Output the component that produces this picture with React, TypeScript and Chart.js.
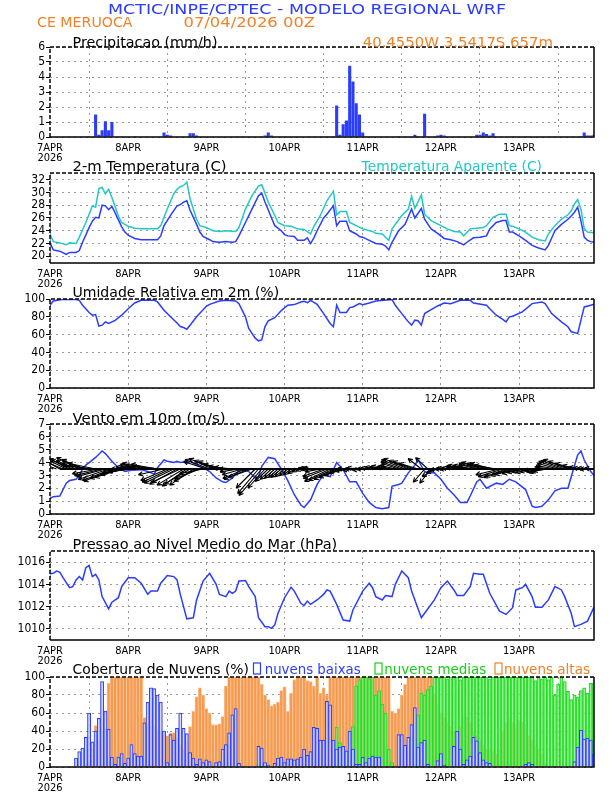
import React, { useEffect, useRef } from 'react';
import { Chart, registerables } from 'chart.js';

Chart.register(...registerables);

// ---------------- DATA ----------------
const dayLabels = ['7APR', '8APR', '9APR', '10APR', '11APR', '12APR', '13APR'];
const yearLabel = '2026';
const dayTicks = [0, 24, 48, 72, 96, 120, 144];

const precipTicks = [0, 1, 2, 3, 4, 5, 6];
const tempTicks = [20, 22, 24, 26, 28, 30, 32];
const rhTicks = [0, 20, 40, 60, 80, 100];
const windTicks = [0, 1, 2, 3, 4, 5, 6, 7];
const pslTicks = [1010, 1012, 1014, 1016];
const cloudTicks = [0, 20, 40, 60, 80, 100];

// hourly precipitation (mm/h), 7APR 00Z .. 13APR 23Z
const precip = [
  0, 0, 0, 0, 0, 0, 0, 0, 0, 0, 0, 0, 0.05, 0, 1.5, 0.15, 0.45, 1.05, 0.45, 1.0, 0, 0, 0, 0,
  0, 0, 0.02, 0, 0, 0, 0, 0, 0, 0, 0, 0.3, 0.15, 0.1, 0, 0, 0, 0.03, 0, 0.25, 0.25, 0.1, 0, 0,
  0, 0, 0, 0, 0, 0, 0, 0, 0, 0, 0, 0, 0, 0, 0, 0, 0, 0, 0.1, 0.3, 0.1, 0, 0, 0,
  0, 0, 0, 0, 0, 0, 0, 0.03, 0, 0, 0, 0, 0, 0.03, 0.03, 0.03, 2.1, 0.15, 0.85, 1.1, 4.75, 3.7, 2.25, 1.5,
  0.3, 0.05, 0, 0, 0, 0, 0, 0, 0, 0, 0, 0.02, 0, 0, 0, 0, 0.15, 0.05, 0, 1.55, 0, 0, 0, 0.1,
  0.15, 0.1, 0, 0, 0, 0, 0, 0, 0, 0, 0, 0.15, 0.15, 0.3, 0.2, 0.1, 0.25, 0, 0, 0, 0, 0, 0.02, 0,
  0, 0, 0, 0, 0, 0, 0, 0, 0, 0, 0, 0, 0, 0, 0, 0, 0, 0, 0, 0.05, 0.3, 0.1, 0.1, 0.15,
];

const t2mHours = [0, 1, 3, 5, 6, 8, 9, 10, 12, 13, 14, 15, 16, 17, 18, 19, 20, 22, 23, 24, 26, 28, 33, 34, 35, 37, 39, 40, 41, 42, 43, 45, 46, 47, 49, 50, 52, 54, 56, 57, 58, 60, 62, 64, 65, 66, 68, 69, 71, 72, 73, 75, 76, 78, 79, 80, 81, 82, 84, 85, 87, 88, 89, 91, 92, 94, 95, 96, 98, 100, 102, 103, 104, 105, 107, 109, 111, 112, 114, 115, 117, 119, 121, 123, 125, 127, 128, 130, 132, 134, 135, 137, 139, 140, 141, 142, 144, 146, 148, 150, 152, 153, 155, 157, 159, 160, 161, 162, 163, 164, 165, 166, 167];
const t2mValues = [22.1, 21.0, 20.8, 20.3, 20.6, 20.6, 20.9, 22.2, 24.5, 25.5, 26.1, 26.0, 28.0, 27.9, 27.3, 27.8, 26.8, 24.6, 23.8, 23.3, 22.8, 22.6, 22.6, 23.2, 24.8, 26.4, 27.9, 28.1, 28.5, 28.7, 27.2, 25.0, 23.8, 23.1, 22.6, 22.3, 22.2, 22.3, 22.2, 22.3, 23.2, 25.3, 27.4, 29.5, 29.9, 28.5, 26.0, 24.8, 24.0, 23.4, 23.2, 23.1, 22.5, 22.5, 22.9, 22.0, 22.9, 24.0, 26.0, 26.6, 27.9, 24.8, 25.5, 25.5, 24.0, 23.5, 23.1, 23.0, 22.5, 22.0, 21.9, 21.6, 21.0, 22.2, 24.0, 25.0, 27.4, 26.0, 27.5, 25.8, 24.3, 23.6, 22.8, 22.6, 22.3, 21.8, 22.2, 22.9, 23.0, 23.2, 24.3, 25.3, 25.6, 25.6, 23.8, 23.8, 23.2, 22.5, 21.7, 21.3, 21.0, 21.7, 24.0, 25.0, 25.8, 26.3, 26.9, 27.7, 25.5, 23.0, 22.5, 22.3, 22.2];

const appHours = [0, 1, 3, 5, 6, 8, 9, 11, 12, 13, 14, 15, 16, 17, 18, 19, 21, 22, 24, 26, 28, 33, 34, 36, 38, 39, 40, 41, 42, 43, 45, 46, 48, 50, 52, 54, 57, 58, 60, 62, 64, 65, 66, 67, 69, 70, 72, 74, 76, 78, 80, 81, 83, 85, 87, 88, 89, 91, 92, 94, 96, 99, 100, 102, 104, 105, 108, 110, 111, 112, 114, 115, 117, 120, 122, 124, 126, 127, 129, 131, 133, 134, 136, 138, 140, 141, 142, 144, 146, 148, 150, 152, 153, 155, 157, 159, 160, 161, 162, 163, 164, 165, 167];
const appValues = [23.5, 22.3, 22.1, 21.8, 22.1, 22.0, 23.0, 25.3, 26.6, 27.9, 27.7, 30.6, 30.8, 29.8, 30.5, 29.2, 26.3, 25.3, 24.7, 24.4, 24.3, 24.3, 24.8, 27.4, 29.8, 30.5, 30.9, 31.1, 31.6, 29.0, 25.8, 24.8, 24.5, 24.0, 23.9, 24.0, 23.9, 24.5, 27.4, 29.5, 31.0, 31.2, 29.9, 28.5, 26.4, 25.3, 24.8, 24.7, 24.3, 24.2, 23.5, 24.7, 26.4, 28.7, 30.2, 26.5, 27.0, 27.0, 25.3, 24.8, 24.3, 23.9, 23.6, 23.5, 22.5, 24.3, 26.4, 27.4, 29.4, 27.5, 29.6, 26.6, 25.6, 24.8, 24.3, 23.9, 23.8, 23.2, 24.3, 24.4, 24.5, 24.8, 26.1, 26.6, 26.6, 24.8, 24.7, 24.3, 23.8, 23.0, 22.6, 22.4, 23.5, 24.8, 25.8, 26.5, 27.1, 28.2, 28.9, 27.4, 24.3, 23.8, 23.7];

const rhHours = [0, 1, 4, 8, 9, 10, 12, 13, 14, 15, 16, 17, 18, 20, 22, 24, 26, 28, 32, 33, 35, 37, 39, 40, 41, 42, 43, 45, 48, 49, 52, 54, 57, 58, 60, 61, 63, 64, 65, 66, 67, 69, 71, 73, 75, 77, 78, 79, 80, 82, 84, 86, 87, 88, 89, 91, 92, 93, 95, 96, 98, 100, 105, 106, 108, 110, 111, 112, 113, 114, 115, 117, 119, 121, 123, 126, 129, 130, 134, 135, 137, 139, 140, 141, 142, 145, 148, 151, 152, 154, 157, 159, 160, 162, 163, 164, 166, 167];
const rhValues = [93, 97.8, 99.6, 99.3, 98.5, 93, 84.8, 81.8, 82.5, 69.5, 70.6, 74.3, 72.5, 76, 81.8, 89, 95.5, 98.5, 98.5, 96.7, 87.4, 80, 73, 69, 68, 66, 70.6, 80, 91.8, 94, 97.8, 98.5, 97.8, 94.8, 80, 67, 56, 53, 54, 69, 75.5, 79, 87, 93, 93.7, 96.7, 97.4, 95.9, 98.5, 94, 83.6, 72.5, 68.8, 93, 84.8, 84.8, 90.3, 91.1, 94.8, 93.7, 95.5, 97.8, 99.3, 93, 83.6, 74.3, 70.6, 76.2, 75.5, 70.6, 83.6, 88, 92.2, 95.5, 94.8, 98.5, 98.5, 95.5, 93, 89, 81.8, 77, 74.3, 79.9, 80.7, 85.5, 94.8, 96.7, 94.8, 83.6, 74.3, 68.8, 63.2, 61.3, 76.2, 91.1, 93, 94];

const windHours = [0, 1, 3, 4, 5, 6, 8, 9, 10, 11, 12, 14, 16, 17, 19, 21, 23, 25, 28, 30, 32, 33, 35, 36, 38, 39, 40, 41, 42, 43, 45, 47, 49, 51, 53, 54, 56, 58, 60, 61, 63, 64, 65, 67, 69, 71, 73, 75, 77, 78, 80, 82, 84, 86, 88, 90, 92, 94, 96, 98, 100, 102, 104, 105, 107, 108, 110, 112, 113, 115, 116, 118, 120, 122, 124, 126, 128, 129, 131, 132, 134, 137, 139, 141, 143, 146, 148, 149, 151, 153, 155, 157, 159, 160, 162, 163, 164, 166, 167];
const windValues = [1.2, 1.35, 1.4, 1.9, 2.4, 2.6, 2.7, 3.0, 3.5, 3.8, 4.0, 4.4, 4.9, 4.7, 4.1, 3.6, 3.3, 3.4, 3.45, 3.3, 3.1, 3.6, 4.2, 4.1, 4.0, 4.1, 4.0, 4.05, 3.95, 4.1, 3.8, 3.6, 3.3, 2.8, 2.5, 2.45, 2.8, 3.4, 3.4, 3.3, 2.8, 2.9, 3.7, 4.4, 4.3, 3.5, 2.6, 1.5, 0.7, 0.5, 1.1, 2.3, 3.1, 2.9, 4.0, 3.45, 2.5, 2.5, 1.6, 0.9, 0.5, 0.4, 0.5, 2.15, 2.3, 2.4, 3.2, 3.8, 4.2, 3.3, 3.2, 3.2, 2.7, 2.0, 1.5, 0.9, 0.9, 1.4, 2.5, 2.7, 2.0, 2.4, 2.3, 2.7, 2.5, 1.9, 0.6, 0.5, 0.6, 1.1, 1.8, 2.0, 2.0, 2.9, 4.6, 4.9, 4.2, 3.3, 3.0];

// hourly wind vector components (m/s) drawn as arrows from the 3.5 line
const windU = [
  -1.6, -1.7, -1.8, -1.7, -1.9, -2.0, -2.2, -2.3, -2.1, -2.4, -2.2, -2.5, -3.0, -3.1, -2.9, -2.8, -2.9, -3.0, -3.2, -3.1, -3.3, -3.0, -2.8, -2.6,
  -2.7, -2.5, -2.8, -2.9, -2.7, -2.6, -2.9, -3.0, -3.1, -2.8, -3.0, -2.7, -2.8, -3.0, -3.1, -2.9, -3.0, -2.8, -2.6, -2.7, -2.5, -2.4, -2.6, -2.5,
  -2.4, -2.6, -2.5, -2.3, -2.2, -2.0, -1.8, -1.7, -1.9, -1.8, -2.0, -2.1, -2.4, -2.6, -2.5, -2.0, -2.2, -2.4, -1.8, -1.4, -1.2, -1.1, -1.0, -1.1,
  -1.0, -0.9, -0.8, -0.7, -0.6, -0.5, -0.6, -0.8, -1.0, -1.2, -1.4, -1.6, -2.2, -2.5, -2.7, -2.6, -2.4, -2.2, -2.0, -1.8, -1.6, -1.9, -2.0, -1.8,
  -1.9, -2.0, -1.8, -1.7, -1.6, -1.5, -1.4, -1.5, -1.3, -1.5, -1.6, -1.8, -2.2, -2.5, -2.6, -2.4, -2.3, -2.0, -1.4, -1.2, -1.3, -1.2, -1.3, -1.2,
  -1.2, -1.0, -1.1, -1.2, -1.3, -1.2, -1.5, -1.7, -1.6, -1.8, -1.7, -1.9, -2.2, -2.3, -2.1, -2.2, -2.4, -2.3, -2.5, -2.6, -2.4, -2.5, -2.3, -2.2,
  -1.8, -1.6, -1.5, -1.4, -1.3, -1.2, -1.3, -1.4, -1.5, -1.6, -1.8, -2.0, -2.2, -2.4, -2.5, -2.6, -2.4, -2.0, -1.6, -1.3, -1.2, -1.1, -1.2, -1.0,
];
const windV = [
  0.8, 0.9, 0.7, 1.0, 0.8, 1.0, 1.1, 1.0, 0.9, 1.2, 1.0, 0.9, 0.5, 0.4, 0.6, -0.5, -0.7, -0.8, -1.1, -1.2, -1.3, -1.0, -0.9, -0.6,
  -0.4, -0.3, -0.2, 0.0, 0.2, 0.3, 0.5, 0.6, 0.4, 0.5, 0.3, -0.6, -1.2, -1.4, -1.5, -1.6, -1.4, -1.7, -1.8, -1.6, -1.7, -1.3, -1.0, -0.5,
  0.8, 1.0, 1.1, 0.9, 0.8, 0.5, 0.3, 0.1, 0.2, 0.0, -0.3, -0.6, -1.0, -1.1, -0.9, -2.0, -2.6, -2.8, -2.0, -1.3, -1.1, -1.0, -0.9, -0.9,
  -0.8, -0.7, -0.6, -0.5, -0.3, -0.2, 0.1, 0.1, 0.0, 0.1, 0.0, -0.3, -0.8, -1.0, -1.3, -1.2, -1.1, -0.9, -0.7, -0.4, -0.2, -0.1, 0.0, -0.1,
  0.0, 0.1, -0.1, 0.0, 0.1, 0.2, 0.2, 0.3, 0.2, 0.3, 0.4, 0.6, 0.8, 1.0, 1.1, 0.9, 0.8, 0.6, 1.1, -1.4, 1.2, -1.5, -0.8, -0.4,
  -0.1, 0.0, 0.1, 0.0, 0.1, 0.2, 0.3, 0.4, 0.3, 0.4, 0.3, 0.5, 0.6, 0.7, 0.6, 0.5, 0.6, 0.4, -0.6, -0.8, -0.9, -0.8, -0.7, -0.6,
  -0.5, -0.4, -0.3, -0.4, -0.3, -0.2, -0.3, -0.4, -0.3, -0.2, 0.2, 0.4, 0.6, 0.8, 0.9, 1.0, 0.8, 0.6, 0.4, 0.2, 0.1, 0.1, 0.0, 0.1,
];
const windBase = 3.5;

const pslHours = [0, 1, 2, 3, 4, 6, 7, 8, 9, 10, 11, 12, 13, 14, 15, 16, 18, 19, 21, 22, 24, 26, 28, 30, 31, 33, 34, 36, 38, 39, 40, 42, 44, 45, 47, 49, 51, 52, 54, 55, 56, 57, 58, 60, 61, 63, 64, 66, 67, 68, 69, 70, 72, 74, 75, 77, 78, 79, 80, 82, 84, 85, 86, 88, 90, 92, 93, 96, 98, 99, 100, 102, 103, 105, 106, 108, 110, 111, 114, 115, 118, 120, 122, 124, 125, 127, 129, 130, 132, 133, 135, 138, 140, 142, 143, 145, 146, 148, 149, 151, 153, 155, 157, 158, 160, 161, 163, 165, 167];
const pslValues = [1014.95, 1015.0, 1015.2, 1015.1, 1014.6, 1013.7, 1013.8, 1014.4, 1014.7, 1014.4, 1015.5, 1015.7, 1014.7, 1014.9, 1014.4, 1012.9, 1011.8, 1012.4, 1012.8, 1013.8, 1014.6, 1014.6, 1014.1, 1013.1, 1013.4, 1013.4, 1014.1, 1014.8, 1014.7, 1014.4, 1013.1, 1010.9, 1011.0, 1012.6, 1014.3, 1015.0, 1014.0, 1013.1, 1012.9, 1013.4, 1013.2, 1013.4, 1014.3, 1014.35, 1013.8, 1012.9, 1011.0, 1010.2, 1010.2, 1010.05, 1010.35, 1011.4, 1012.8, 1013.75, 1013.4, 1012.3, 1012.1, 1012.5, 1012.2, 1012.6, 1013.1, 1013.5, 1013.4, 1012.2, 1010.8, 1010.7, 1011.7, 1013.4, 1014.1, 1013.7, 1012.9, 1012.6, 1013.0, 1012.9, 1014.0, 1015.2, 1014.6, 1013.4, 1011.0, 1011.4, 1012.6, 1013.7, 1014.3, 1013.5, 1013.0, 1013.0, 1013.8, 1015.0, 1014.9, 1014.9, 1013.2, 1011.6, 1011.3, 1011.9, 1013.5, 1013.7, 1014.0, 1012.9, 1011.95, 1011.95, 1012.6, 1013.8, 1013.5, 1012.9, 1011.4, 1010.2, 1010.4, 1010.7, 1011.95];

// hourly cloud cover (%)
const lowClouds = [
  0, 0, 0, 0, 0, 0, 0, 0, 10, 17, 21, 33, 60, 28, 40, 54, 95, 62, 42, 11, 3, 11, 15, 4,
  10, 25, 15, 12, 12, 49, 72, 88, 87, 80, 72, 40, 5, 36, 30, 43, 60, 43, 37, 16, 10, 3, 9, 5,
  8, 6, 1, 5, 6, 20, 25, 38, 58, 65, 4, 0, 0, 0, 0, 0, 23, 21, 5, 2, 0, 4, 10, 11,
  5, 9, 9, 8, 9, 11, 20, 13, 17, 44, 43, 30, 30, 73, 69, 30, 20, 22, 23, 18, 40, 20, 3, 3,
  11, 5, 10, 12, 11, 11, 0, 0, 0, 0, 0, 36, 36, 24, 33, 47, 66, 22, 27, 30, 3, 0, 0, 7,
  15, 2, 0, 0, 23, 40, 20, 3, 8, 12, 33, 29, 16, 8, 5, 4, 0, 0, 0, 0, 0, 0, 0, 0,
  0, 0, 3, 5, 3, 0, 0, 0, 0, 0, 0, 0, 0, 0, 0, 0, 0, 6, 22, 41, 31, 32, 30, 14,
];
const midClouds = [
  0, 0, 0, 0, 0, 0, 0, 0, 0, 0, 0, 0, 0, 0, 0, 0, 0, 0, 0, 2, 0, 0, 0, 0,
  0, 0, 0, 0, 0, 0, 0, 0, 0, 0, 0, 0, 0, 0, 0, 0, 2, 2, 0, 0, 2, 0, 0, 3,
  0, 0, 0, 0, 0, 0, 0, 0, 0, 0, 0, 0, 0, 0, 0, 0, 3, 3, 2, 0, 0, 0, 0, 0,
  0, 0, 0, 0, 0, 0, 0, 0, 0, 0, 0, 0, 0, 0, 0, 0, 44, 27, 20, 17, 18, 45, 90, 97,
  100, 100, 98, 100, 80, 85, 70, 60, 20, 5, 0, 0, 0, 0, 0, 0, 30, 58, 82, 80, 86, 90, 100, 100,
  100, 100, 98, 100, 100, 100, 97, 100, 100, 100, 100, 100, 100, 100, 100, 98, 100, 100, 100, 100, 100, 100, 100, 100,
  100, 100, 100, 100, 100, 96, 100, 98, 100, 97, 100, 80, 92, 100, 95, 84, 75, 80, 78, 85, 88, 82, 93, 93,
];
const highClouds = [
  0, 0, 0, 0, 0, 0, 0, 0, 0, 0, 0, 3, 5, 20, 46, 30, 40, 43, 93, 100, 100, 100, 100, 100,
  100, 100, 100, 100, 100, 55, 48, 52, 45, 42, 40, 38, 35, 38, 38, 33, 25, 20, 28, 45, 62, 78, 88, 80,
  65, 60, 47, 47, 48, 56, 90, 100, 100, 100, 100, 100, 100, 100, 100, 100, 100, 92, 80, 75, 68, 70, 72, 85,
  89, 62, 82, 97, 100, 100, 100, 96, 95, 90, 100, 82, 88, 80, 100, 100, 100, 100, 100, 100, 100, 100, 100, 100,
  100, 100, 100, 100, 100, 100, 100, 100, 100, 62, 60, 65, 80, 92, 100, 100, 100, 100, 100, 100, 100, 100, 80, 70,
  60, 55, 50, 45, 40, 35, 45, 57, 55, 50, 40, 35, 30, 25, 20, 20, 18, 15, 20, 40, 50, 53, 50, 48,
  52, 50, 48, 35, 30, 25, 20, 15, 5, 0, 0, 0, 0, 0, 0, 0, 0, 0, 0, 0, 0, 0, 0, 0,
];

// ---------------- STYLE ----------------
const BLUE = '#2a3cff';
const CYAN = '#22c8c8';
const ORANGE = '#f08228';
const GREEN = '#14d214';
const GRID_COLOR = '#9a9a9a';
const FONT_FAMILY = "'DejaVu Sans Condensed', 'DejaVu Sans', sans-serif";
const X_TICK_FONT = { family: FONT_FAMILY, size: 11, lineHeight: 0.9 };
const Y_TICK_FONT = { family: FONT_FAMILY, size: 12 };
const TITLE_FONT = "'DejaVu Sans', sans-serif";

const PAD_T = 12;
const X_H = 30;
const LEFT = 50;
const RIGHT_PAD = 18;

const PANELS = [
  { top: 47, bottom: 137 },
  { top: 173, bottom: 263 },
  { top: 299, bottom: 388 },
  { top: 424, bottom: 514 },
  { top: 551, bottom: 640 },
  { top: 677, bottom: 767 },
];

const hourly = (arr: number[]) => arr.map((v, i) => ({ x: i, y: v }));
const pts = (hs: number[], vs: number[]) => hs.map((h, i) => ({ x: h, y: vs[i] }));

const framePlugin = {
  id: 'frame',
  afterDraw(chart: any) {
    const { ctx, chartArea } = chart;
    const { left, top, right, bottom } = chartArea;
    ctx.save();
    ctx.strokeStyle = '#000';
    ctx.lineWidth = 1.5;
    ctx.setLineDash([]);
    ctx.beginPath();
    ctx.moveTo(right, top);
    ctx.lineTo(right, bottom);
    ctx.lineTo(left, bottom);
    ctx.stroke();
    ctx.setLineDash([4, 2]);
    ctx.beginPath();
    ctx.moveTo(left, bottom);
    ctx.lineTo(left, top);
    ctx.lineTo(right, top);
    ctx.stroke();
    ctx.restore();
  },
};

const arrowPlugin = {
  id: 'windArrows',
  afterDatasetsDraw(chart: any) {
    const { ctx, chartArea, scales } = chart;
    const xs = scales.x;
    const ys = scales.y;
    const y0 = ys.getPixelForValue(windBase);
    const k = 9.5;
    ctx.save();
    ctx.beginPath();
    ctx.rect(chartArea.left, chartArea.top, chartArea.right - chartArea.left, chartArea.bottom - chartArea.top);
    ctx.clip();
    ctx.strokeStyle = '#000';
    ctx.lineWidth = 2;
    ctx.beginPath();
    ctx.moveTo(xs.getPixelForValue(3), y0);
    ctx.lineTo(chartArea.right, y0);
    ctx.stroke();
    ctx.lineWidth = 1.1;
    for (let i = 0; i < windU.length; i++) {
      const x0 = xs.getPixelForValue(i);
      const dx = windU[i] * k;
      const dy = -windV[i] * k;
      const x1 = x0 + dx;
      const y1 = y0 + dy;
      const ang = Math.atan2(dy, dx);
      const hl = 5;
      ctx.beginPath();
      ctx.moveTo(x0, y0);
      ctx.lineTo(x1, y1);
      ctx.moveTo(x1, y1);
      ctx.lineTo(x1 - hl * Math.cos(ang - 0.45), y1 - hl * Math.sin(ang - 0.45));
      ctx.moveTo(x1, y1);
      ctx.lineTo(x1 - hl * Math.cos(ang + 0.45), y1 - hl * Math.sin(ang + 0.45));
      ctx.stroke();
    }
    ctx.restore();
  },
};

function makeOptions(yMin: number, yMax: number, yTicks: number[]) {
  return {
    responsive: false,
    maintainAspectRatio: false,
    animation: false,
    devicePixelRatio: 1,
    layout: { padding: { top: PAD_T, right: RIGHT_PAD, left: 0, bottom: 0 } },
    plugins: { legend: { display: false }, tooltip: { enabled: false }, title: { display: false } },
    scales: {
      x: {
        type: 'linear',
        min: 0,
        max: 167,
        offset: false,
        afterBuildTicks: (s: any) => {
          s.ticks = dayTicks.map((v) => ({ value: v }));
        },
        afterFit: (s: any) => {
          s.height = X_H;
        },
        ticks: {
          autoSkip: false,
          maxRotation: 0,
          minRotation: 0,
          padding: 6,
          color: '#000',
          font: X_TICK_FONT,
          callback: (v: number) => {
            const i = dayTicks.indexOf(v);
            return i === 0 ? [dayLabels[0], yearLabel] : dayLabels[i];
          },
        },
        grid: { color: GRID_COLOR, lineWidth: 1, drawTicks: false },
        border: { display: false, dash: [2, 4] },
      },
      y: {
        type: 'linear',
        min: yMin,
        max: yMax,
        afterBuildTicks: (s: any) => {
          s.ticks = yTicks.map((v) => ({ value: v }));
        },
        afterFit: (s: any) => {
          s.width = LEFT;
        },
        ticks: { autoSkip: false, color: '#000', font: Y_TICK_FONT, padding: 1, callback: (v: number) => String(v) },
        grid: { color: GRID_COLOR, lineWidth: 1, drawTicks: true, tickLength: 4, tickColor: '#000', tickWidth: 1 },
        border: { display: false, dash: [2, 4] },
      },
    },
  };
}

const lineDs = (data: any[], color: string) => ({
  type: 'line',
  data,
  borderColor: color,
  borderWidth: 1.5,
  pointRadius: 0,
  tension: 0,
  fill: false,
});

const builders: (() => any)[] = [
  () => ({
    type: 'bar',
    data: {
      datasets: [
        { data: hourly(precip), backgroundColor: BLUE, borderWidth: 0, barPercentage: 1, categoryPercentage: 0.95 },
      ],
    },
    options: makeOptions(0, 6, precipTicks),
    plugins: [framePlugin],
  }),
  () => ({
    type: 'line',
    data: { datasets: [lineDs(pts(appHours, appValues), CYAN), lineDs(pts(t2mHours, t2mValues), BLUE)] },
    options: makeOptions(18.95, 33.05, tempTicks),
    plugins: [framePlugin],
  }),
  () => ({
    type: 'line',
    data: { datasets: [lineDs(pts(rhHours, rhValues), BLUE)] },
    options: makeOptions(0, 100, rhTicks),
    plugins: [framePlugin],
  }),
  () => ({
    type: 'line',
    data: { datasets: [lineDs(pts(windHours, windValues), BLUE)] },
    options: makeOptions(0, 7, windTicks),
    plugins: [arrowPlugin, framePlugin],
  }),
  () => ({
    type: 'line',
    data: { datasets: [lineDs(pts(pslHours, pslValues), BLUE)] },
    options: makeOptions(1009, 1017, pslTicks),
    plugins: [framePlugin],
  }),
  () => ({
    type: 'bar',
    data: {
      datasets: [
        {
          data: hourly(lowClouds),
          backgroundColor: 'rgba(255,255,255,0.6)',
          borderColor: BLUE,
          borderWidth: 1,
          grouped: false,
          barPercentage: 1,
          categoryPercentage: 1,
        },
        {
          data: hourly(midClouds),
          backgroundColor: 'rgba(150,240,150,0.55)',
          borderColor: '#22dd22',
          borderWidth: 1,
          grouped: false,
          barPercentage: 1,
          categoryPercentage: 1,
        },
        {
          data: hourly(highClouds),
          backgroundColor: '#f59a50',
          borderColor: '#fcc595',
          borderWidth: 0.8,
          grouped: false,
          barPercentage: 1,
          categoryPercentage: 1,
        },
      ],
    },
    options: makeOptions(0, 100, cloudTicks),
    plugins: [framePlugin],
  }),
];

function Panel({ top, bottom, build }: { top: number; bottom: number; build: () => any }) {
  const ref = useRef<HTMLCanvasElement | null>(null);
  useEffect(() => {
    if (!ref.current) return;
    const chart = new Chart(ref.current, build());
    return () => chart.destroy();
  }, []);
  const h = bottom - top + PAD_T + X_H;
  return (
    <canvas
      ref={ref}
      width={612}
      height={h}
      style={{ position: 'absolute', left: 0, top: top - PAD_T, width: 612, height: h }}
    />
  );
}

type Txt = { t: string; x: number; y: number; w: number; c: string; s: number };
const texts: Txt[] = [
  { t: 'MCTIC/INPE/CPTEC - MODELO REGIONAL WRF', x: 108, y: 13.5, w: 398, c: BLUE, s: 14 },
  { t: 'CE MERUOCA', x: 37, y: 27, w: 95.5, c: ORANGE, s: 13.5 },
  { t: '07/04/2026 00Z', x: 183.5, y: 27, w: 131.5, c: ORANGE, s: 13.5 },
  { t: 'Precipitacao (mm/h)', x: 72.5, y: 46.5, w: 145, c: '#000', s: 13.5 },
  { t: '40.4550W 3.5417S 657m', x: 362.7, y: 46.5, w: 190.3, c: ORANGE, s: 13.5 },
  { t: '2-m Temperatura (C)', x: 72.5, y: 170.7, w: 154, c: '#000', s: 13.5 },
  { t: 'Temperatura Aparente (C)', x: 361.6, y: 170.7, w: 180.4, c: CYAN, s: 13.5 },
  { t: 'Umidade Relativa em 2m (%)', x: 72.5, y: 296.7, w: 206.7, c: '#000', s: 13.5 },
  { t: 'Vento em 10m (m/s)', x: 72.5, y: 422.7, w: 153, c: '#000', s: 13.5 },
  { t: 'Pressao ao Nivel Medio do Mar (hPa)', x: 72.5, y: 549, w: 264.7, c: '#000', s: 13.5 },
  { t: 'Cobertura de Nuvens (%)', x: 72.5, y: 674, w: 176.5, c: '#000', s: 13.5 },
  { t: 'nuvens baixas', x: 264.7, y: 674, w: 96, c: BLUE, s: 13.5 },
  { t: 'nuvens medias', x: 384.3, y: 674, w: 102, c: GREEN, s: 13.5 },
  { t: 'nuvens altas', x: 504, y: 674, w: 86, c: ORANGE, s: 13.5 },
];
const legendBoxes = [
  { x: 253.5, c: BLUE },
  { x: 375, c: GREEN },
  { x: 495, c: ORANGE },
];

export default function App() {
  return (
    <div style={{ position: 'absolute', left: 0, top: 0, width: 612, height: 792, background: '#fff', overflow: 'hidden' }}>
      {PANELS.map((p, i) => (
        <Panel key={i} top={p.top} bottom={p.bottom} build={builders[i]} />
      ))}
      <svg width={612} height={792} style={{ position: 'absolute', left: 0, top: 0, pointerEvents: 'none' }}>
        {texts.map((tx, i) => (
          <text
            key={i}
            x={tx.x}
            y={tx.y}
            fill={tx.c}
            fontSize={tx.s}
            fontFamily={TITLE_FONT}
            textLength={tx.w}
            lengthAdjust="spacingAndGlyphs"
          >
            {tx.t}
          </text>
        ))}
        {legendBoxes.map((b, i) => (
          <rect key={i} x={b.x} y={663} width={7} height={11} fill="none" stroke={b.c} strokeWidth={1.2} />
        ))}
      </svg>
    </div>
  );
}
